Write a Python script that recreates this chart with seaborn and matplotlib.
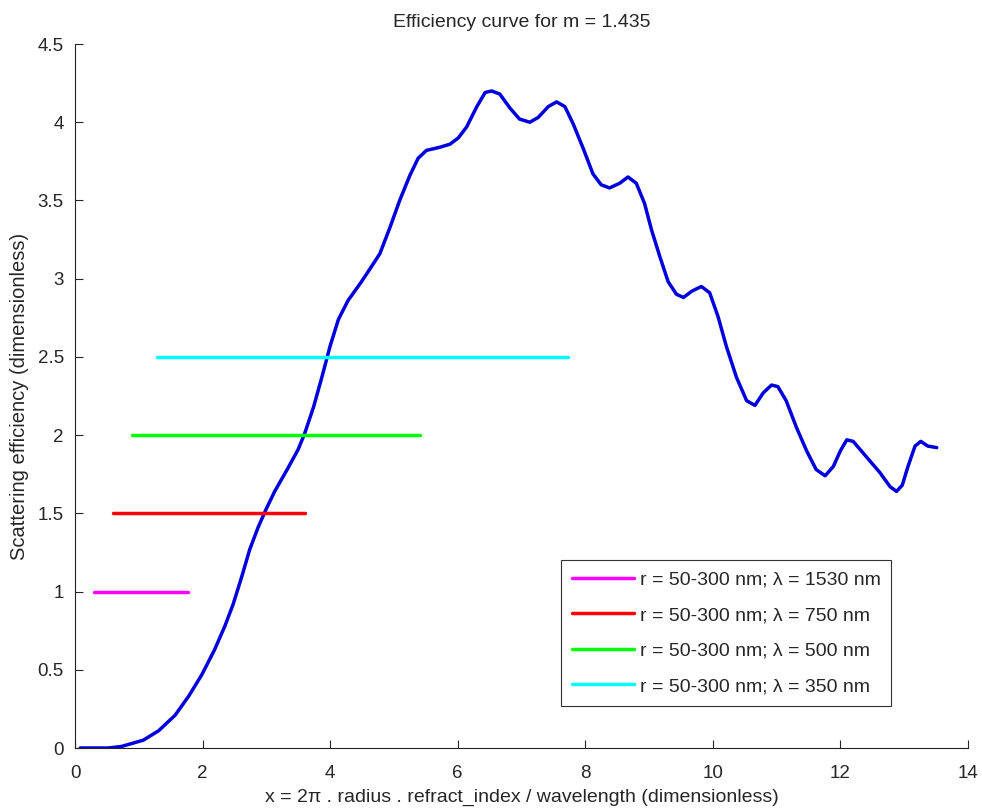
import matplotlib
matplotlib.use("Agg")
from matplotlib import pyplot as plt
from matplotlib.ticker import FuncFormatter
import seaborn as sns
import pandas as pd

# scattering efficiency curve
size_param = [0.08, 0.52, 0.73, 1.07, 1.31, 1.57, 1.78, 1.99, 2.19, 2.35, 2.48, 2.61,
              2.74, 2.87, 3.00, 3.13, 3.34, 3.50, 3.60, 3.74, 3.87, 4.00, 4.13, 4.28,
              4.49, 4.62, 4.78, 4.94, 5.09, 5.25, 5.38, 5.51, 5.72, 5.88, 6.01, 6.14,
              6.30, 6.43, 6.53, 6.66, 6.82, 6.97, 7.13, 7.26, 7.42, 7.55, 7.68, 7.81,
              7.97, 8.12, 8.25, 8.38, 8.54, 8.67, 8.80, 8.93, 9.04, 9.17, 9.30, 9.43,
              9.54, 9.67, 9.82, 9.95, 10.08, 10.21, 10.37, 10.53, 10.66, 10.79, 10.92,
              11.02, 11.15, 11.31, 11.47, 11.62, 11.76, 11.89, 12.00, 12.10, 12.20,
              12.41, 12.62, 12.78, 12.88, 12.97, 13.06, 13.17, 13.26, 13.37, 13.51]
efficiency = [0.00, 0.00, 0.01, 0.05, 0.11, 0.21, 0.33, 0.47, 0.63, 0.78, 0.92, 1.09,
              1.27, 1.41, 1.53, 1.64, 1.79, 1.91, 2.01, 2.18, 2.37, 2.57, 2.74, 2.86,
              2.98, 3.06, 3.16, 3.33, 3.50, 3.66, 3.77, 3.82, 3.84, 3.86, 3.90, 3.97,
              4.10, 4.19, 4.20, 4.18, 4.09, 4.02, 4.00, 4.03, 4.10, 4.13, 4.10, 3.99,
              3.83, 3.67, 3.60, 3.58, 3.61, 3.65, 3.61, 3.48, 3.31, 3.14, 2.98, 2.90,
              2.88, 2.92, 2.95, 2.91, 2.76, 2.57, 2.37, 2.22, 2.19, 2.27, 2.32,
              2.31, 2.22, 2.05, 1.90, 1.78, 1.74, 1.80, 1.90, 1.97, 1.96,
              1.86, 1.76, 1.67, 1.64, 1.68, 1.80, 1.93, 1.96, 1.93, 1.92]

# size-parameter ranges for r = 50-300 nm at each wavelength
range_labels = ["r = 50-300 nm; \u03bb = 1530 nm", "r = 50-300 nm; \u03bb = 750 nm",
                "r = 50-300 nm; \u03bb = 500 nm", "r = 50-300 nm; \u03bb = 350 nm"]
range_start = [0.29, 0.60, 0.90, 1.29]
range_end = [1.77, 3.61, 5.41, 7.73]
range_level = [1.0, 1.5, 2.0, 2.5]
range_colors = ["#ff00ff", "#ff0000", "#00ff00", "#00ffff"]

sns.set_style("ticks")
plt.rcParams['font.family'] = ['Liberation Sans', 'DejaVu Sans']

fig = plt.figure(figsize=(9.82, 8.09), dpi=100)
ax = fig.add_axes([0.0764, 0.0754, 0.9093, 0.8702])

curve = pd.DataFrame({"x": size_param, "q": efficiency})
sns.lineplot(data=curve, x="x", y="q", ax=ax, color="#0000dd", linewidth=2.5,
             sort=False, estimator=None, solid_joinstyle="round")

for lab, x0, x1, lev, col in zip(range_labels, range_start, range_end, range_level, range_colors):
    seg = pd.DataFrame({"x": [x0, x1], "q": [lev, lev]})
    sns.lineplot(data=seg, x="x", y="q", ax=ax, color=col, linewidth=2.5,
                 estimator=None, label=lab)

ax.set_xlim(0, 14)
ax.set_ylim(0, 4.5)
ax.set_xticks(range(0, 15, 2))
ax.set_yticks([0, 0.5, 1, 1.5, 2, 2.5, 3, 3.5, 4, 4.5])
ax.yaxis.set_major_formatter(FuncFormatter(lambda v, p: "%g" % v))
ax.tick_params(direction="in", length=6, width=0.8, labelsize=13.5)
ax.tick_params(axis="x", pad=12)
ax.tick_params(axis="y", pad=8)
sns.despine(ax=ax)
for s in ["left", "bottom"]:
    ax.spines[s].set_linewidth(0.8)
    ax.spines[s].set_color("#222222")

ax.set_title("Efficiency curve for m = 1.435", fontsize=14, pad=12)
ax.set_xlabel("x = 2\u03c0 . radius . refract_index / wavelength (dimensionless)", fontsize=14, labelpad=5)
ax.set_ylabel("Scattering efficiency (dimensionless)", fontsize=14.5, labelpad=6)

leg = ax.legend(loc="lower right", bbox_to_anchor=(0.914, 0.06), fontsize=14,
                handlelength=3.2, handletextpad=0.3, labelspacing=0.92,
                borderpad=0.55, borderaxespad=0, fancybox=False, framealpha=1,
                edgecolor="#333333")
leg.get_frame().set_linewidth(0.8)

fig.savefig("out.png", dpi=100)
